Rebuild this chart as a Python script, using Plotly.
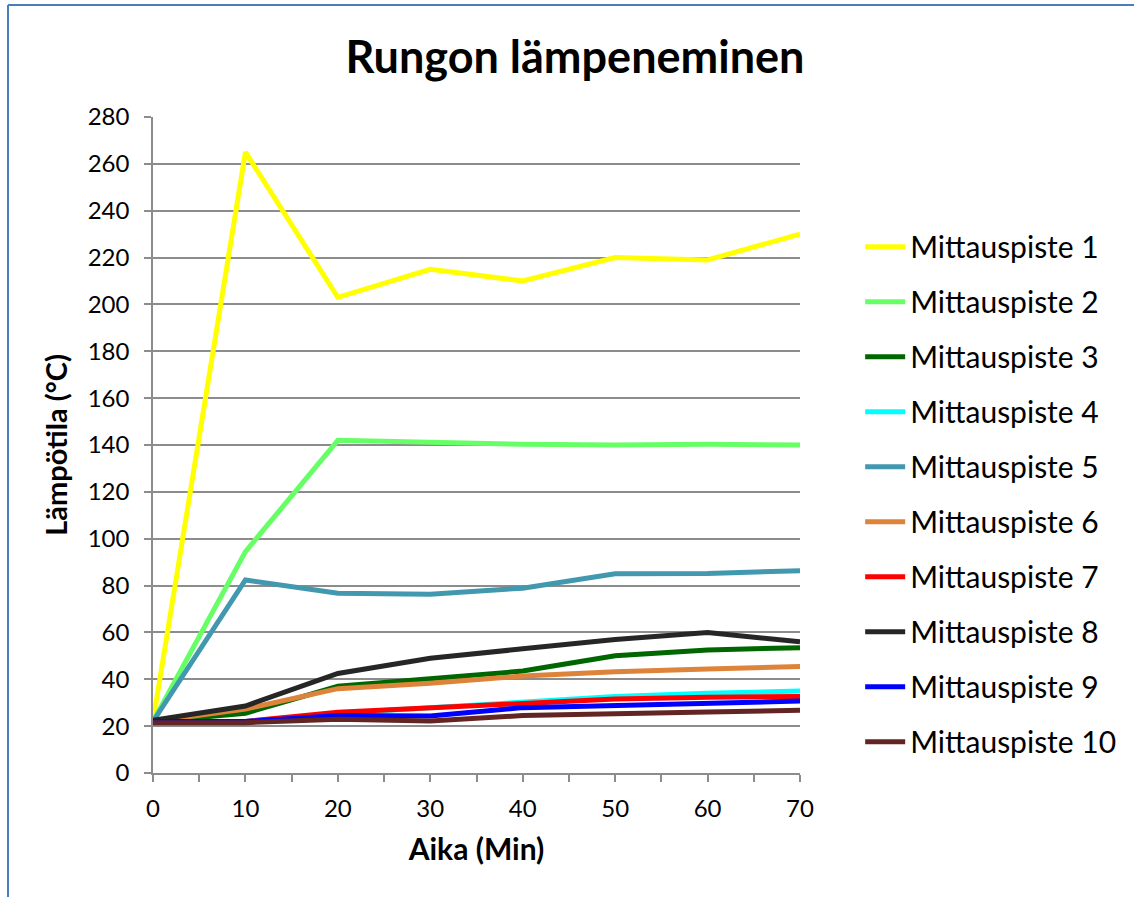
import plotly.graph_objects as go

# Measurement times (minutes)
aika = [0, 10, 20, 30, 40, 50, 60, 70]

# Temperatures (°C) per measuring point
mp1 = [22, 265, 203, 215, 210, 220, 219, 230]
mp2 = [22, 94.5, 142, 141, 140.3, 140, 140.3, 140]
mp3 = [22, 25.5, 37, 40, 43.5, 50, 52.5, 53.5]
mp4 = [22, 22, 25.5, 28, 30.4, 32.6, 34, 35]
mp5 = [22, 82.4, 76.7, 76.3, 78.9, 85, 85.2, 86.3]
mp6 = [22, 27.3, 36, 38.3, 41.4, 43.2, 44.4, 45.5]
mp7 = [22, 22, 25.9, 27.9, 29.7, 31.6, 32.3, 32.7]
mp8 = [22.5, 28.6, 42.5, 49, 53, 57, 60, 56]
mp9 = [22, 22, 24.5, 24.3, 27.9, 29, 30, 30.7]
mp10 = [21.5, 21.5, 22.9, 22.2, 24.5, 25.5, 26, 26.8]

series_names = [f"Mittauspiste {i}" for i in range(1, 11)]
series_values = [mp1, mp2, mp3, mp4, mp5, mp6, mp7, mp8, mp9, mp10]
series_colors = ["#FFFF00", "#66FF66", "#006600", "#00FFFF", "#4198AF",
                 "#DD843A", "#FF0000", "#262626", "#0000FF", "#632523"]

FONT = "Lato, 'Open Sans', sans-serif"
GRID = "#8C8C8C"

fig = go.Figure()
for name, vals, col in zip(series_names, series_values, series_colors):
    fig.add_trace(go.Scatter(
        x=aika, y=vals, name=name, mode="lines",
        line=dict(color=col, width=5),
        legendgroup=name,
    ))

fig.update_layout(
    width=1134, height=897,
    paper_bgcolor="white", plot_bgcolor="white",
    margin=dict(l=153, r=334, t=117, b=124),
    font=dict(family=FONT, color="black"),
    title=dict(text="<b>Rungon lämpeneminen</b>", x=575 / 1134, xanchor="center",
               y=1 - 57 / 897, yanchor="middle",
               font=dict(size=45, family=FONT, color="black")),
    showlegend=True,
    legend=dict(x=1.093, xanchor="left", y=0.842, yanchor="top",
                font=dict(size=30, family=FONT, color="black"),
                tracegroupgap=13, itemwidth=40,
                bgcolor="rgba(0,0,0,0)"),
    xaxis=dict(
        range=[0, 70], tickmode="linear", tick0=0, dtick=10,
        showgrid=False, zeroline=False,
        showline=True, linecolor=GRID, linewidth=1.5,
        ticks="outside", ticklen=7, tickcolor=GRID, tickwidth=1.5,
        minor=dict(dtick=5, ticks="outside", ticklen=7, tickcolor=GRID, tickwidth=1.5),
        tickfont=dict(size=24, family=FONT, color="black"),
        ticklabelstandoff=6,
        title=dict(text="<b>Aika (Min)</b>", font=dict(size=30, family=FONT, color="black"),
                   standoff=18),
    ),
    yaxis=dict(
        range=[0, 280], tickmode="linear", tick0=0, dtick=20,
        showgrid=True, gridcolor=GRID, gridwidth=1.5,
        zeroline=False,
        showline=True, linecolor=GRID, linewidth=1.5,
        ticks="outside", ticklen=7, tickcolor=GRID, tickwidth=1.5,
        tickfont=dict(size=24, family=FONT, color="black"),
        ticklabelstandoff=10,
        title=dict(text="<b>Lämpötila (°C)</b>", font=dict(size=29, family=FONT, color="black"),
                   standoff=12),
    ),
)

# Chart frame (top and left edges)
fx0 = (8 - 153) / 647
fy0 = (773 - 5) / 656
fig.add_shape(type="line", xref="paper", yref="paper", x0=fx0, x1=(1140 - 153) / 647,
              y0=fy0, y1=fy0, line=dict(color="#4A7EBB", width=2))
fig.add_shape(type="line", xref="paper", yref="paper", x0=fx0, x1=fx0,
              y0=fy0, y1=(773 - 900) / 656, line=dict(color="#4A7EBB", width=2))

fig.write_html("out.html")
